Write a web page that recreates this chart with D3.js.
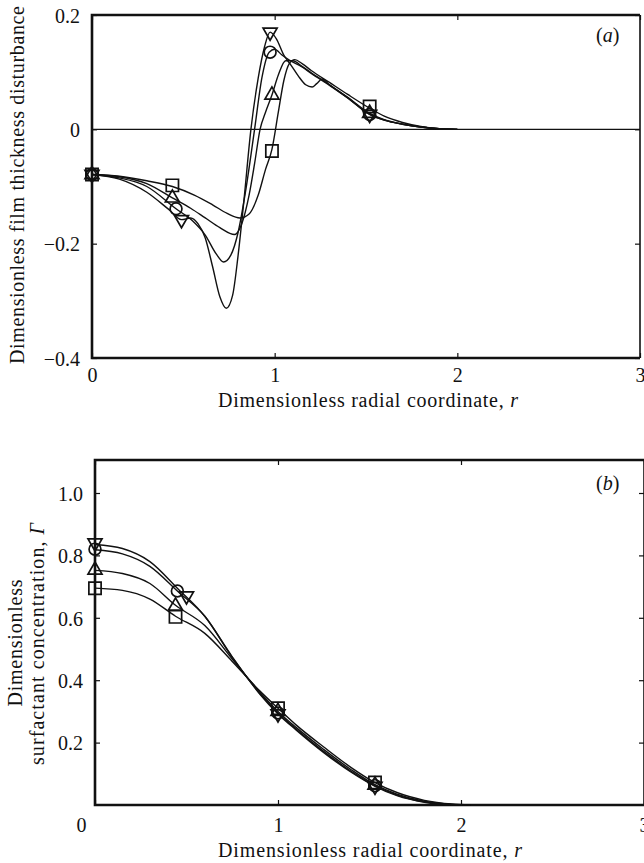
<!DOCTYPE html>
<html>
<head>
<meta charset="utf-8">
<script src="https://cdn.jsdelivr.net/npm/d3@7"></script>
<style>
  body { margin: 0; background: #fff; }
  svg { display: block; font-family: 'Liberation Serif', 'DejaVu Serif', serif; }
</style>
</head>
<body>
<div id="chart"></div>
<script>
// tick values
const rTicks = [0, 1, 2, 3]
const filmTicks = [-0.4, -0.2, 0, 0.2]
const surfTicks = [0.2, 0.4, 0.6, 0.8, 1.0]

// series order: square, triangle up, circle, triangle down
const symbols = ['square', 'triangleUp', 'circle', 'triangleDown']

// (a) film thickness disturbance curves  [r, h]
const filmSquare = [[0, -0.079], [0.15, -0.082], [0.3, -0.09], [0.44, -0.1], [0.56, -0.115], [0.66, -0.132], [0.74, -0.147], [0.81, -0.155], [0.86, -0.148], [0.91, -0.115], [0.95, -0.07], [0.985, -0.035], [1.02, 0.03], [1.05, 0.085], [1.08, 0.115], [1.11, 0.122], [1.15, 0.115], [1.2, 0.103], [1.3, 0.082], [1.4, 0.061], [1.52, 0.037], [1.6, 0.023], [1.7, 0.012], [1.8, 0.005], [1.9, 0.001], [2.0, 0]]
const filmTriUp = [[0, -0.079], [0.15, -0.083], [0.3, -0.095], [0.44, -0.12], [0.54, -0.138], [0.62, -0.155], [0.7, -0.172], [0.78, -0.184], [0.82, -0.165], [0.86, -0.115], [0.89, -0.06], [0.92, 0], [0.95, 0.03], [0.985, 0.06], [1.02, 0.095], [1.06, 0.12], [1.1, 0.12], [1.15, 0.11], [1.2, 0.099], [1.3, 0.078], [1.4, 0.056], [1.52, 0.028], [1.6, 0.017], [1.7, 0.009], [1.8, 0.004], [1.9, 0.001], [2.0, 0]]
const filmCircle = [[0, -0.079], [0.15, -0.085], [0.3, -0.1], [0.46, -0.139], [0.55, -0.16], [0.62, -0.185], [0.68, -0.218], [0.72, -0.232], [0.76, -0.22], [0.8, -0.18], [0.84, -0.11], [0.89, 0], [0.93, 0.09], [0.97, 0.135], [1.0, 0.14], [1.04, 0.13], [1.08, 0.121], [1.15, 0.109], [1.2, 0.098], [1.3, 0.077], [1.4, 0.055], [1.52, 0.026], [1.6, 0.016], [1.7, 0.009], [1.8, 0.004], [1.9, 0.001], [2.0, 0]]
const filmTriDown = [[0, -0.079], [0.15, -0.087], [0.3, -0.11], [0.42, -0.14], [0.49, -0.158], [0.54, -0.155], [0.58, -0.165], [0.62, -0.19], [0.66, -0.24], [0.7, -0.293], [0.735, -0.313], [0.77, -0.29], [0.8, -0.22], [0.83, -0.13], [0.87, 0], [0.91, 0.09], [0.945, 0.145], [0.975, 0.17], [1.01, 0.158], [1.05, 0.13], [1.09, 0.112], [1.13, 0.093], [1.17, 0.078], [1.205, 0.074], [1.23, 0.08], [1.26, 0.088], [1.3, 0.078], [1.4, 0.055], [1.52, 0.026], [1.6, 0.016], [1.7, 0.009], [1.8, 0.004], [1.9, 0.001], [2.0, 0]]

// (a) marker positions
const filmSquareMarks = [[0, -0.079], [0.44, -0.098], [0.985, -0.038], [1.52, 0.04]]
const filmTriUpMarks = [[0, -0.079], [0.44, -0.12], [0.985, 0.06], [1.52, 0.028]]
const filmCircleMarks = [[0, -0.079], [0.46, -0.139], [0.975, 0.135], [1.52, 0.026]]
const filmTriDownMarks = [[0, -0.079], [0.49, -0.158], [0.975, 0.17], [1.52, 0.026]]

// (b) surfactant concentration curves  [r, Gamma]
const surfSquare = [[0, 0.695], [0.15, 0.688], [0.3, 0.66], [0.44, 0.605], [0.6, 0.55], [0.75, 0.46], [0.9, 0.366], [1.0, 0.31], [1.1, 0.256], [1.25, 0.186], [1.4, 0.12], [1.53, 0.072], [1.65, 0.04], [1.8, 0.015], [1.95, 0.003], [2.05, 0]]
const surfTriUp = [[0, 0.752], [0.15, 0.742], [0.3, 0.71], [0.44, 0.64], [0.6, 0.575], [0.75, 0.468], [0.9, 0.362], [1.0, 0.3], [1.1, 0.248], [1.25, 0.178], [1.4, 0.113], [1.53, 0.065], [1.65, 0.035], [1.8, 0.012], [1.95, 0.002], [2.05, 0]]
const surfCircle = [[0, 0.818], [0.15, 0.805], [0.3, 0.765], [0.45, 0.686], [0.6, 0.605], [0.75, 0.473], [0.9, 0.358], [1.0, 0.295], [1.1, 0.243], [1.25, 0.172], [1.4, 0.108], [1.53, 0.062], [1.65, 0.032], [1.8, 0.01], [1.95, 0.001], [2.05, 0]]
const surfTriDown = [[0, 0.835], [0.15, 0.822], [0.3, 0.78], [0.45, 0.695], [0.6, 0.605], [0.75, 0.475], [0.9, 0.356], [1.0, 0.292], [1.1, 0.24], [1.25, 0.168], [1.4, 0.105], [1.53, 0.06], [1.65, 0.03], [1.8, 0.009], [1.95, 0.001], [2.05, 0]]

// (b) marker positions
const surfSquareMarks = [[0, 0.695], [0.44, 0.603], [1.0, 0.31], [1.53, 0.072]]
const surfTriUpMarks = [[0, 0.753], [0.44, 0.638], [1.0, 0.3], [1.53, 0.064]]
const surfCircleMarks = [[0, 0.82], [0.45, 0.686], [1.0, 0.295], [1.53, 0.062]]
const surfTriDownMarks = [[0, 0.84], [0.5, 0.67], [1.0, 0.292], [1.53, 0.06]]

const width = 644
const height = 863
const fontSize = 20

const svg = d3.select('#chart')
  .append('svg')
  .attr('width', width)
  .attr('height', height)

const symbolPath = {
  square: d3.symbol().type(d3.symbolSquare).size(150)(),
  triangleUp: d3.symbol().type(d3.symbolTriangle).size(85)(),
  circle: d3.symbol().type(d3.symbolCircle).size(110)(),
  triangleDown: d3.symbol().type(d3.symbolTriangle).size(85)()
}

const minusFormat = d => d === 0 ? '0' : d3.format('.1f')(d).replace('-', '\u2212')

function panel (cfg) {
  const { x, y, top } = cfg
  const [x0, x1] = x.range()
  const y0 = y(y.domain()[0])
  const yTop = top

  const g = svg.append('g')

  // inward ticks on all four sides
  const bottomAxis = g.append('g')
    .attr('transform', 'translate(0,' + y0 + ')')
    .call(d3.axisBottom(x).tickValues(rTicks).tickSize(-5).tickSizeOuter(0).tickPadding(cfg.xPad).tickFormat(d3.format('d')))
  const leftAxis = g.append('g')
    .attr('transform', 'translate(' + x0 + ',0)')
    .call(d3.axisLeft(y).tickValues(cfg.yTicks).tickSize(-5).tickSizeOuter(0).tickPadding(12).tickFormat(cfg.yFormat))
  g.append('g')
    .attr('transform', 'translate(0,' + yTop + ')')
    .call(d3.axisTop(x).tickValues(rTicks).tickSize(-5).tickSizeOuter(0).tickFormat(''))
  g.append('g')
    .attr('transform', 'translate(' + x1 + ',0)')
    .call(d3.axisRight(y).tickValues(cfg.yTicks).tickSize(-5).tickSizeOuter(0).tickFormat(''))

  g.selectAll('.domain').remove()
  g.selectAll('.tick line').attr('stroke', '#111').attr('stroke-width', 1.2)
  g.selectAll('.tick text')
    .attr('fill', '#111')
    .attr('font-family', "'Liberation Serif', serif")
    .attr('font-size', fontSize)
  bottomAxis.selectAll('.tick text').filter(d => d === 0).attr('dx', cfg.zeroShift)
  leftAxis.selectAll('.tick text').attr('dy', '0.36em')

  // frame
  g.append('path')
    .attr('d', 'M' + x1 + ',' + yTop + 'H' + x0 + 'V' + y0 + 'H' + x1)
    .attr('fill', 'none')
    .attr('stroke', '#111')
    .attr('stroke-width', 2.6)
  g.append('line')
    .attr('x1', x1).attr('x2', x1)
    .attr('y1', yTop).attr('y2', y0)
    .attr('stroke', '#111')
    .attr('stroke-width', 1.6)

  if (cfg.zeroLine) {
    g.append('line')
      .attr('x1', x0).attr('x2', x1)
      .attr('y1', y(0)).attr('y2', y(0))
      .attr('stroke', '#111')
      .attr('stroke-width', 1.1)
  }

  const line = d3.line()
    .x(d => x(d[0]))
    .y(d => y(d[1]))
    .curve(d3.curveMonotoneX)

  cfg.curves.forEach(c => {
    g.append('path')
      .datum(c)
      .attr('d', line)
      .attr('fill', 'none')
      .attr('stroke', '#111')
      .attr('stroke-width', 1.4)
  })

  cfg.marks.forEach((m, i) => {
    const sym = symbols[i]
    g.selectAll(null)
      .data(m)
      .join('path')
      .attr('d', symbolPath[sym])
      .attr('transform', d => 'translate(' + x(d[0]) + ',' + y(d[1]) + ')' + (sym === 'triangleDown' ? ' rotate(180)' : ''))
      .attr('fill', 'none')
      .attr('stroke', '#111')
      .attr('stroke-width', 1.7)
  })

  g.append('text')
    .attr('x', cfg.tagX)
    .attr('y', cfg.tagY)
    .attr('font-size', fontSize)
    .attr('fill', '#111')
    .html('(<tspan font-style="italic">' + cfg.tag + '</tspan>)')

  g.append('text')
    .attr('x', cfg.xTitleX)
    .attr('y', cfg.xTitleY)
    .attr('text-anchor', 'middle')
    .attr('font-size', fontSize)
    .attr('fill', '#111')
    .attr('textLength', cfg.xTitleLen)
    .attr('lengthAdjust', 'spacing')
    .html('Dimensionless radial coordinate, <tspan font-style="italic">r</tspan>')
}

// (a)
const xA = d3.scaleLinear().domain([0, 3]).range([92, 640])
const yA = d3.scaleLinear().domain([-0.4, 0.2]).range([358, 15])
panel({
  x: xA,
  y: yA,
  top: yA(0.2),
  yTicks: filmTicks,
  yFormat: minusFormat,
  xPad: 10,
  zeroShift: 0,
  zeroLine: true,
  curves: [filmSquare, filmTriUp, filmCircle, filmTriDown],
  marks: [filmSquareMarks, filmTriUpMarks, filmCircleMarks, filmTriDownMarks],
  tag: 'a',
  tagX: 596,
  tagY: 42,
  xTitleX: 368,
  xTitleY: 407,
  xTitleLen: 300
})

svg.append('text')
  .attr('transform', 'translate(24,185) rotate(-90)')
  .attr('text-anchor', 'middle')
  .attr('font-size', fontSize)
  .attr('fill', '#111')
  .attr('textLength', 358)
  .attr('lengthAdjust', 'spacing')
  .text('Dimensionless film thickness disturbance')

// (b)
const xB = d3.scaleLinear().domain([0, 3]).range([95, 644])
const yB = d3.scaleLinear().domain([0, 1]).range([805, 493])
panel({
  x: xB,
  y: yB,
  top: 460,
  yTicks: surfTicks,
  yFormat: d3.format('.1f'),
  xPad: 13,
  zeroShift: -14,
  zeroLine: false,
  curves: [surfSquare, surfTriUp, surfCircle, surfTriDown],
  marks: [surfSquareMarks, surfTriUpMarks, surfCircleMarks, surfTriDownMarks],
  tag: 'b',
  tagX: 596,
  tagY: 490,
  xTitleX: 370,
  xTitleY: 857,
  xTitleLen: 304
})

svg.append('text')
  .attr('transform', 'translate(22,643) rotate(-90)')
  .attr('text-anchor', 'middle')
  .attr('font-size', fontSize)
  .attr('fill', '#111')
  .attr('textLength', 127)
  .attr('lengthAdjust', 'spacing')
  .text('Dimensionless')

svg.append('text')
  .attr('transform', 'translate(44,644) rotate(-90)')
  .attr('text-anchor', 'middle')
  .attr('font-size', fontSize)
  .attr('fill', '#111')
  .attr('textLength', 242)
  .attr('lengthAdjust', 'spacing')
  .html('surfactant concentration, <tspan font-style="italic">\u0393</tspan>')
</script>
</body>
</html>
